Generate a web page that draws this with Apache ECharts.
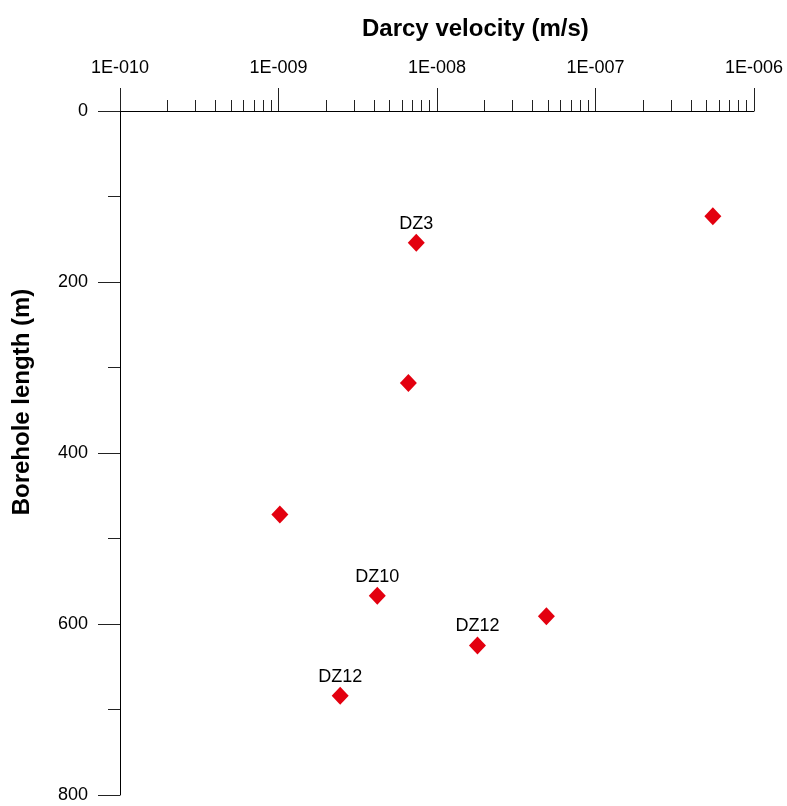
<!DOCTYPE html>
<html>
<head>
<meta charset="utf-8">
<script src="https://cdn.jsdelivr.net/npm/echarts@6/dist/echarts.min.js"></script>
<style>
  html, body { margin: 0; padding: 0; background: #fff; }
  #chart { width: 787px; height: 806px; }
</style>
</head>
<body>
<div id="chart"></div>
<script>
// values
const velocity = [5.5e-7, 7.4e-9, 6.6e-9, 1.02e-9, 4.2e-9, 4.9e-8, 1.8e-8, 2.45e-9];
const depth = [123, 154, 318, 472, 567, 591, 625, 684];
const pointLabels = ['', 'DZ3', '', '', 'DZ10', '', 'DZ12', 'DZ12'];

// minor ticks of the log axis: 2..9 times each decade
const decades = [1e-10, 1e-9, 1e-8, 1e-7];
const minorTicks = [];
decades.forEach(function (d) {
  for (let k = 2; k <= 9; k++) minorTicks.push(k * d);
});

const chart = echarts.init(document.getElementById('chart'));

const fontFamily = 'Liberation Sans, Arial, sans-serif';

function fmtExp(v) {
  const e = Math.round(Math.log10(v));
  return '1E-' + String(-e).padStart(3, '0');
}

const option = {
  animation: false,
  backgroundColor: '#fff',
  title: {
    text: 'Darcy velocity (m/s)',
    left: 357,
    top: 12,
    textStyle: { fontFamily: fontFamily, fontSize: 24, fontWeight: 'bold', color: '#000' }
  },
  // y axis title sits above the middle of the axis, so placed by hand
  graphic: [
    {
      type: 'text',
      x: 22,
      y: 402,
      rotation: Math.PI / 2,
      style: {
        text: 'Borehole length (m)',
        font: 'bold 24px Liberation Sans, Arial, sans-serif',
        fill: '#000',
        align: 'center',
        verticalAlign: 'middle'
      }
    }
  ],
  grid: { left: 120, right: 33, top: 111, bottom: 11 },
  xAxis: [
    {
      type: 'log',
      logBase: 10,
      position: 'top',
      min: 1e-10,
      max: 1e-6,
      axisLine: { show: true, lineStyle: { color: '#000', width: 1 } },
      axisTick: { show: true, inside: false, length: 23, lineStyle: { color: '#222' } },
      axisLabel: {
        margin: 34,
        fontFamily: fontFamily,
        fontSize: 18,
        color: '#000',
        formatter: fmtExp
      },
      splitLine: { show: false }
    },
    {
      type: 'log',
      logBase: 10,
      position: 'top',
      min: 1e-10,
      max: 1e-6,
      axisLine: { show: false },
      axisTick: { show: true, length: 11, customValues: minorTicks, lineStyle: { color: '#222' } },
      axisLabel: { show: false },
      splitLine: { show: false }
    }
  ],
  yAxis: {
    type: 'value',
    inverse: true,
    min: 0,
    max: 800,
    interval: 200,
    axisLine: { show: true, lineStyle: { color: '#000', width: 1 } },
    axisTick: { show: true, length: 22, lineStyle: { color: '#222' } },
    minorTick: { show: true, splitNumber: 2, length: 12, lineStyle: { color: '#222' } },
    axisLabel: { margin: 32, fontFamily: fontFamily, fontSize: 18, color: '#000' },
    splitLine: { show: false }
  },
  series: [
    {
      type: 'scatter',
      symbol: 'diamond',
      symbolSize: [17, 18],
      itemStyle: { color: '#e3000f', opacity: 1 },
      label: {
        show: true,
        position: 'top',
        distance: 1,
        fontFamily: fontFamily,
        fontSize: 18,
        color: '#000',
        formatter: function (p) { return pointLabels[p.dataIndex]; }
      },
      data: velocity.map(function (v, i) { return [v, depth[i]]; })
    }
  ]
};

chart.setOption(option);
</script>
</body>
</html>
